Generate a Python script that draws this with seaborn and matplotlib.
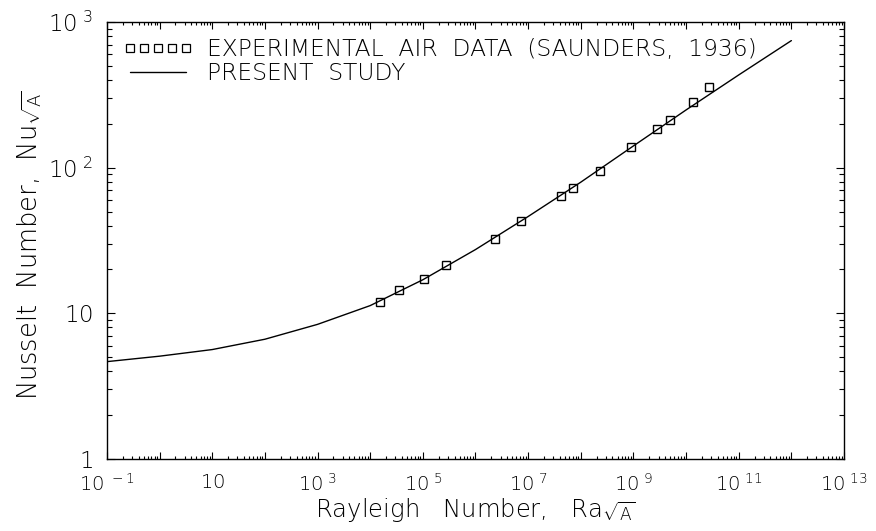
import numpy as np
import matplotlib
matplotlib.use("Agg")
import matplotlib.pyplot as plt
import seaborn as sns
from matplotlib.lines import Line2D
from matplotlib.ticker import FixedLocator, LogLocator, NullFormatter

ra_exp = [1.56e4, 3.5e4, 1.05e5, 2.8e5, 2.3e6, 7.4e6, 4.3e7, 7.1e7,
          2.3e8, 9.0e8, 2.8e9, 4.9e9, 1.35e10, 2.7e10]
nu_exp = [12.0, 14.5, 17.2, 21.4, 32.2, 42.8, 63.9, 72.9,
          94.9, 138, 184, 212, 282, 356]

# Present study curve
ra_fit = [1e-1, 1, 10, 1e2, 1e3, 1e4, 1e5, 1e6, 1e7, 1e8, 1e9, 1e10, 1e11, 1e12]
nu_fit = [4.66, 5.08, 5.64, 6.64, 8.4, 11.3, 17.0, 27.4, 46.2, 79.5, 141, 249, 433, 745]

x_exps = list(range(-1, 14))
x_labels = {-1: r"$10^{\ -1}$", 1: r"$10$", 3: r"$10^{\ 3}$", 5: r"$10^{\ 5}$",
            7: r"$10^{\ 7}$", 9: r"$10^{\ 9}$", 11: r"$10^{\ 11}$", 13: r"$10^{\ 13}$"}
y_ticks = [1, 10, 100, 1000]
y_labels = [r"$1\enspace$", r"$10\enspace$", r"$10^{\ 2}$", r"$10^{\ 3}$"]

sns.set_style("ticks")
plt.rcParams["font.family"] = ["DejaVu Sans"]
plt.rcParams["font.weight"] = "light"
plt.rcParams["axes.labelweight"] = "light"
plt.rcParams["mathtext.fontset"] = "custom"
plt.rcParams["mathtext.rm"] = "DejaVu Sans:light"
plt.rcParams["mathtext.it"] = "DejaVu Sans:light"
plt.rcParams["mathtext.sf"] = "DejaVu Sans:light"
plt.rcParams["mathtext.default"] = "regular"
plt.rcParams["text.color"] = "black"
plt.rcParams["axes.labelcolor"] = "black"

fig = plt.figure(figsize=(8.76, 5.31), dpi=100)
ax = fig.add_axes([0.1221, 0.1356, 0.8414, 0.8230])
ax.set_xscale("log")
ax.set_yscale("log")

sns.lineplot(x=ra_fit, y=nu_fit, ax=ax, color="black", linewidth=1.0)
sns.lineplot(x=ra_exp, y=nu_exp, ax=ax, marker="s", linestyle="", markersize=5.5,
             markerfacecolor="none", markeredgecolor="black", markeredgewidth=1.0)

ax.set_xlim(1e-1, 1e13)
ax.set_ylim(1, 1e3)

# ticks
ax.xaxis.set_major_locator(FixedLocator([10.0 ** e for e in x_exps]))
ax.set_xticklabels([x_labels.get(e, "") for e in x_exps])
ax.xaxis.set_minor_locator(LogLocator(base=10, subs=np.arange(2, 10), numticks=100))
ax.xaxis.set_minor_formatter(NullFormatter())
ax.yaxis.set_major_locator(FixedLocator(y_ticks))
ax.set_yticklabels(y_labels)
ax.yaxis.set_minor_locator(LogLocator(base=10, subs=np.arange(2, 10), numticks=100))
ax.yaxis.set_minor_formatter(NullFormatter())

ax.tick_params(which="both", direction="in", top=True, right=True, width=0.8, colors="black")
ax.tick_params(axis="x", which="major", length=5, pad=10, labelsize=14)
ax.tick_params(axis="x", which="minor", length=2.5)
ax.tick_params(axis="y", which="major", length=6, pad=10, labelsize=16.5)
ax.tick_params(axis="y", which="minor", length=3.6)
for s in ax.spines.values():
    s.set_linewidth(1.0)
    s.set_color("black")

ax.set_xlabel(r"Rayleigh   Number,   Ra$_{\sqrt{A}}$", fontsize=17.5)
ax.xaxis.set_label_coords(0.5, -0.085)
ax.set_ylabel(r"Nusselt  Number,  Nu$_{\sqrt{A}}$", fontsize=18.5)
ax.yaxis.set_label_coords(-0.086, 0.49)

handles = [Line2D([], [], marker="s", linestyle="none", markersize=5.5,
                  markerfacecolor="none", markeredgecolor="black", markeredgewidth=0.9),
           Line2D([], [], color="black", linewidth=1.0)]
ax.legend(handles, ["EXPERIMENTAL  AIR  DATA  (SAUNDERS,  1936)", "PRESENT  STUDY"],
          loc="upper left", bbox_to_anchor=(0.0, 1.0), frameon=False, numpoints=5,
          handlelength=3.0, handletextpad=0.6, labelspacing=0.05, fontsize=16.8,
          borderaxespad=0.3, borderpad=0.4)

fig.savefig("out.png", dpi=100)
